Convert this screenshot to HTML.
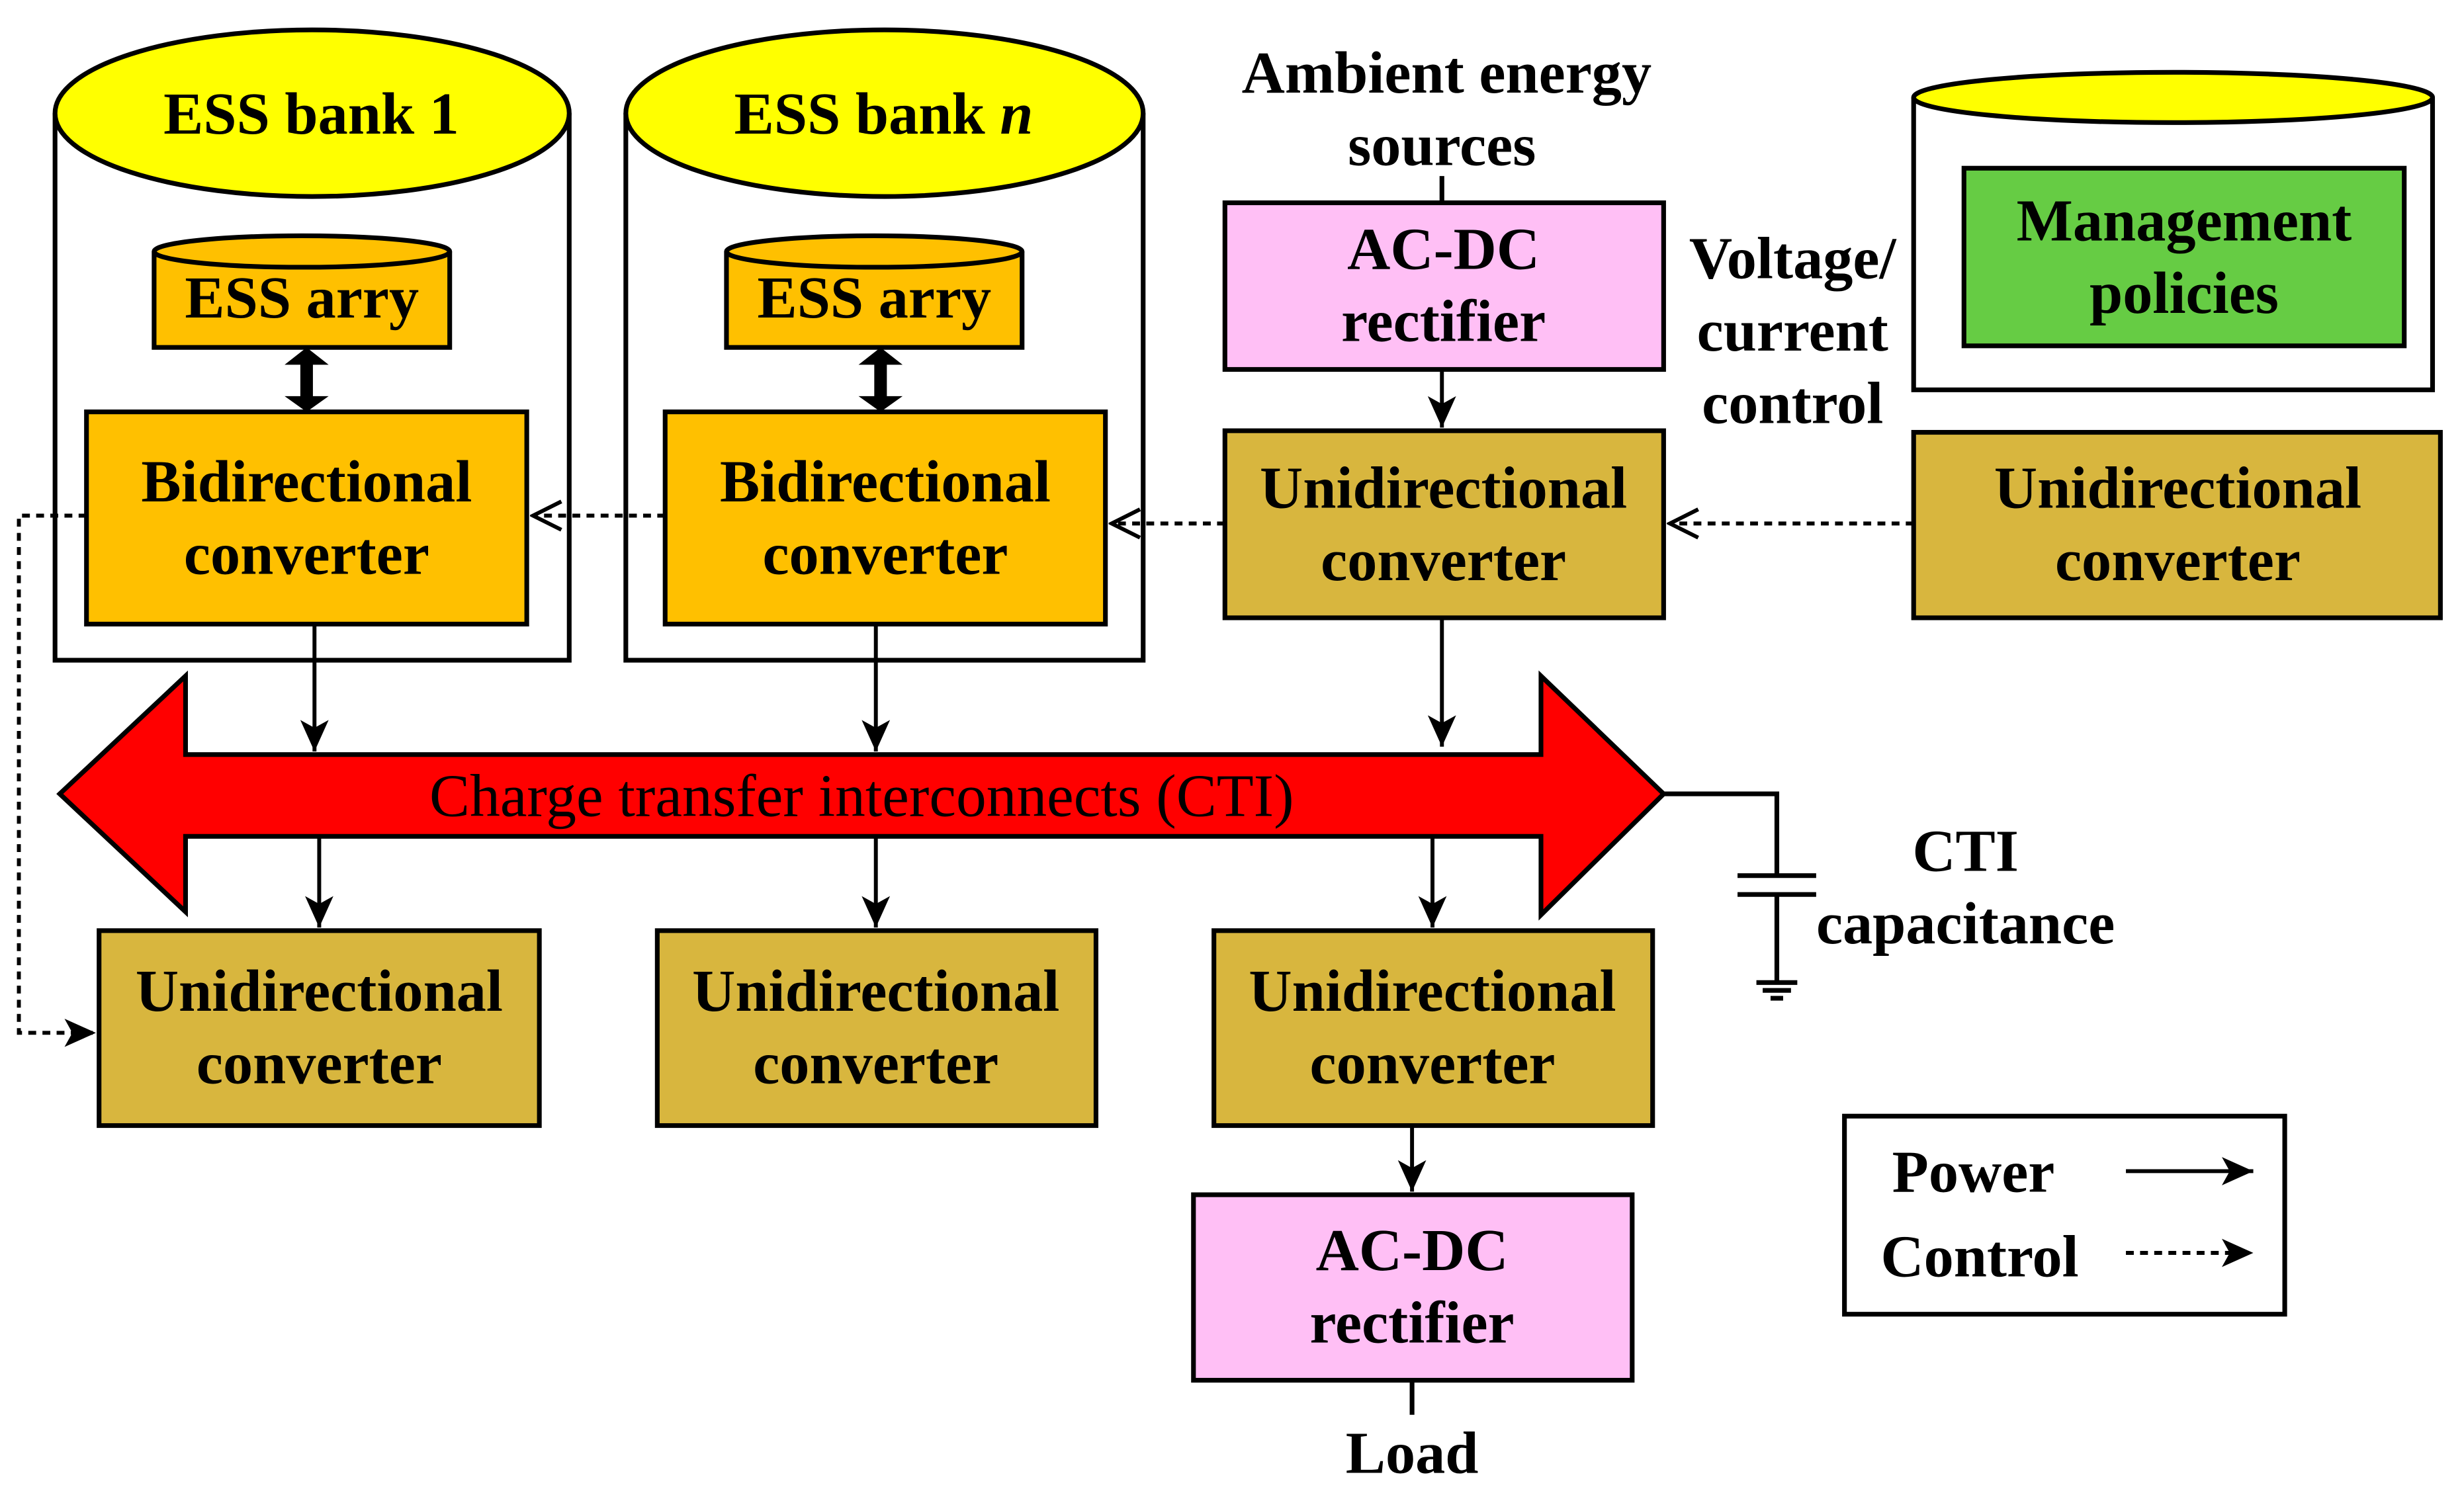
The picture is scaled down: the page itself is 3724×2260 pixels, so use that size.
<!DOCTYPE html>
<html><head><meta charset="utf-8"><style>
html,body{margin:0;padding:0;background:#fff}
svg{display:block}
text{font-family:"Liberation Serif",serif;font-weight:bold;font-size:38px;text-anchor:middle;fill:#000}
</style></head><body>
<svg width="3724" height="2260" viewBox="0 0 1567 951" preserveAspectRatio="none" xmlns="http://www.w3.org/2000/svg">
<defs>
<marker id="ah2" markerWidth="22" markerHeight="22" refX="20" refY="11" orient="auto" markerUnits="userSpaceOnUse" viewBox="0 0 22 22">
<path d="M0,2 L20,11 L0,20 L5,11 Z" fill="#000"/></marker>
<marker id="ahc" markerWidth="22" markerHeight="22" refX="20" refY="11" orient="auto" markerUnits="userSpaceOnUse" viewBox="0 0 22 22">
<path d="M2,2 L20,11 L2,20" fill="none" stroke="#000" stroke-width="2.5"/></marker>
</defs>
<g stroke="#000" stroke-width="3">
<path d="M35,72 L35,420 L362,420 L362,72" fill="#fff"/>
<ellipse cx="198.5" cy="72" rx="163.5" ry="53" fill="#ffff00"/>
<path d="M398,72 L398,420 L727,420 L727,72" fill="#fff"/>
<ellipse cx="562.5" cy="72" rx="164.5" ry="53" fill="#ffff00"/>
<path d="M98,160 L98,221 L286,221 L286,160" fill="#ffc000"/>
<ellipse cx="192" cy="160" rx="94" ry="10" fill="#ffc000"/>
<path d="M462,160 L462,221 L650,221 L650,160" fill="#ffc000"/>
<ellipse cx="556" cy="160" rx="94" ry="10" fill="#ffc000"/>
<path d="M1217,62 L1217,248 L1547,248 L1547,62" fill="#fff"/>
<ellipse cx="1382" cy="62" rx="165" ry="16" fill="#ffff00"/>
<rect x="1249" y="107" width="280" height="113" fill="#66cc44"/>
<rect x="55" y="262" width="280" height="135" fill="#ffc000"/>
<rect x="423" y="262" width="280" height="135" fill="#ffc000"/>
<rect x="779" y="129" width="279" height="106" fill="#ffbff5"/>
<rect x="779" y="274" width="279" height="119" fill="#d8b63e"/>
<rect x="1217" y="275" width="335" height="118" fill="#d8b63e"/>
<rect x="63" y="592" width="280" height="124" fill="#d8b63e"/>
<rect x="418" y="592" width="279" height="124" fill="#d8b63e"/>
<rect x="772" y="592" width="279" height="124" fill="#d8b63e"/>
<rect x="759" y="760" width="279" height="118" fill="#ffbff5"/>
<rect x="1173" y="710" width="280" height="126" fill="#fff"/>
<path d="M38,505 L118,430 L118,480 L980,480 L980,430 L1058,505 L980,582 L980,532 L118,532 L118,580 Z" fill="#ff0000"/>
</g>
<g fill="#000">
<rect x="191" y="228" width="8" height="28"/>
<path d="M181,232 L195,221 L209,232 Z M181,252 L195,262 L209,252 Z"/>
<rect x="556" y="228" width="8" height="28"/>
<path d="M546,232 L560,221 L574,232 Z M546,252 L560,262 L574,252 Z"/>
</g>
<g stroke="#000" stroke-width="2.5" fill="none" marker-end="url(#ah2)">
<line x1="200" y1="397" x2="200" y2="478"/>
<line x1="557" y1="397" x2="557" y2="478"/>
<line x1="917" y1="393" x2="917" y2="475"/>
<line x1="917" y1="235" x2="917" y2="272"/>
<line x1="203" y1="532" x2="203" y2="590"/>
<line x1="557" y1="532" x2="557" y2="590"/>
<line x1="911" y1="532" x2="911" y2="590"/>
<line x1="898" y1="716" x2="898" y2="758"/>
<line x1="1352" y1="745" x2="1433" y2="745"/>
</g>
<g stroke="#000" stroke-width="2.5" fill="none" stroke-dasharray="5,4">
<line x1="1217" y1="333" x2="1062" y2="333" marker-end="url(#ahc)"/>
<line x1="779" y1="333" x2="707" y2="333" marker-end="url(#ahc)"/>
<line x1="423" y1="328" x2="339" y2="328" marker-end="url(#ahc)"/>
<polyline points="55,328 12,328 12,657 61,657" marker-end="url(#ah2)"/>
<line x1="1352" y1="797" x2="1433" y2="797" marker-end="url(#ah2)"/>
</g>
<g stroke="#000" stroke-width="3" fill="none">
<line x1="917" y1="112" x2="917" y2="129"/>
<polyline points="1058,505 1130,505 1130,557"/>
<line x1="1105" y1="557" x2="1155" y2="557"/>
<line x1="1105" y1="569" x2="1155" y2="569"/>
<line x1="1130" y1="569" x2="1130" y2="625"/>
<line x1="1117" y1="625" x2="1143" y2="625"/>
<line x1="1121" y1="630" x2="1139" y2="630"/>
<line x1="1126" y1="635" x2="1134" y2="635"/>
<line x1="898" y1="878" x2="898" y2="900"/>
</g>
<text x="198" y="85">ESS bank 1</text>
<text x="562" y="85">ESS bank <tspan font-style="italic">n</tspan></text>
<text x="192" y="202">ESS arry</text>
<text x="556" y="202">ESS arry</text>
<text x="195" y="319">Bidirectional</text>
<text x="195" y="365">converter</text>
<text x="563" y="319">Bidirectional</text>
<text x="563" y="365">converter</text>
<text x="920" y="59">Ambient energy</text>
<text x="917" y="105">sources</text>
<text x="918" y="171">AC-DC</text>
<text x="918" y="217">rectifier</text>
<text x="1140" y="177">Voltage/</text>
<text x="1140" y="223">current</text>
<text x="1140" y="269">control</text>
<text x="1389" y="153">Management</text>
<text x="1389" y="199">policies</text>
<text x="918" y="323">Unidirectional</text>
<text x="918" y="369">converter</text>
<text x="1385" y="323">Unidirectional</text>
<text x="1385" y="369">converter</text>
<text x="548" y="519" style="font-weight:normal;font-size:38.5px">Charge transfer interconnects (CTI)</text>
<text x="1250" y="554">CTI</text>
<text x="1250" y="600">capacitance</text>
<text x="203" y="643">Unidirectional</text>
<text x="203" y="689">converter</text>
<text x="557" y="643">Unidirectional</text>
<text x="557" y="689">converter</text>
<text x="911" y="643">Unidirectional</text>
<text x="911" y="689">converter</text>
<text x="898" y="808">AC-DC</text>
<text x="898" y="854">rectifier</text>
<text x="898" y="937">Load</text>
<text x="1255" y="758">Power</text>
<text x="1259" y="812">Control</text>
</svg>
</body></html>
